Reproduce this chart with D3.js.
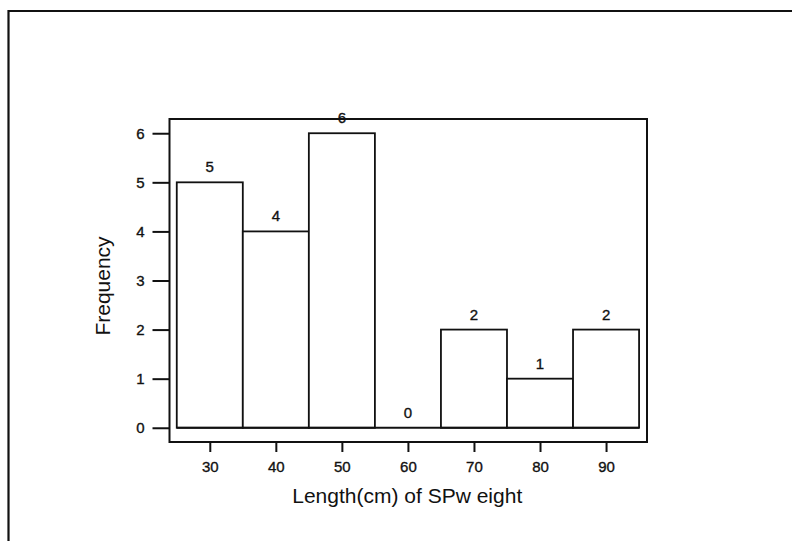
<!DOCTYPE html>
<html>
<head>
<meta charset="utf-8">
<script src="https://cdn.jsdelivr.net/npm/d3@7"></script>
<style>
  html, body { margin: 0; padding: 0; background: #fff; }
  svg { display: block; }
  text { font-family: Arial, "Liberation Sans", sans-serif; fill: #111; }
  .num { stroke: #111; stroke-width: 0.35px; }
</style>
</head>
<body>
<svg id="chart" width="792" height="541"></svg>
<script>
// Histogram of lengths (cm): bin centres and their counts
const binCenters = [30, 40, 50, 60, 70, 80, 90];
const counts = [5, 4, 6, 0, 2, 1, 2];
const binWidth = 10;
const xTicks = [30, 40, 50, 60, 70, 80, 90];
const yTicks = [0, 1, 2, 3, 4, 5, 6];
const xTitle = "Length(cm) of SPw eight";
const yTitle = "Frequency";

const svg = d3.select("#chart");
const frame = { left: 169.5, top: 119, right: 647, bottom: 442 };

const x = d3.scaleLinear().domain([23.9, 96.2]).range([frame.left, frame.right]);
const y = d3.scaleLinear().domain([-0.29, 6.29]).range([frame.bottom, frame.top]);

// page border
svg.append("path")
  .attr("d", "M8.5,541 V11 H792")
  .attr("fill", "none").attr("stroke", "#111").attr("stroke-width", 2.2);

// plot frame
svg.append("rect")
  .attr("x", frame.left).attr("y", frame.top)
  .attr("width", frame.right - frame.left).attr("height", frame.bottom - frame.top)
  .attr("fill", "none").attr("stroke", "#111").attr("stroke-width", 2);

// bars
const bins = binCenters.map((c, i) => ({ c, n: counts[i] }));
svg.append("g").selectAll("rect").data(bins).join("rect")
  .attr("x", d => x(d.c - binWidth / 2))
  .attr("y", d => y(d.n))
  .attr("width", d => x(d.c + binWidth / 2) - x(d.c - binWidth / 2))
  .attr("height", d => y(0) - y(d.n))
  .attr("fill", "#fff").attr("stroke", "#111").attr("stroke-width", 1.8);

// common baseline under all bins (covers empty bins too)
svg.append("line")
  .attr("x1", x(binCenters[0] - binWidth / 2))
  .attr("x2", x(binCenters[binCenters.length - 1] + binWidth / 2))
  .attr("y1", y(0)).attr("y2", y(0))
  .attr("stroke", "#111").attr("stroke-width", 1.8);

// value labels above bars
svg.append("g").selectAll("text").data(bins).join("text")
  .attr("class", "num")
  .attr("x", d => x(d.c))
  .attr("y", d => y(d.n) - 10)
  .attr("text-anchor", "middle")
  .style("font-size", "15px")
  .text(d => d.n);

// y axis
const yAxis = d3.axisLeft(y).tickValues(yTicks).tickSize(17).tickPadding(8).tickFormat(d3.format("d"));
const gy = svg.append("g").attr("transform", `translate(${frame.left},0)`).call(yAxis);
gy.select(".domain").remove();
gy.selectAll(".tick line").attr("stroke", "#111").attr("stroke-width", 2);
gy.selectAll(".tick text").attr("class", "num").style("font-size", "15px").attr("fill", "#111");

// x axis
const xAxis = d3.axisBottom(x).tickValues(xTicks).tickSize(10).tickPadding(9).tickFormat(d3.format("d"));
const gx = svg.append("g").attr("transform", `translate(0,${frame.bottom})`).call(xAxis);
gx.select(".domain").remove();
gx.selectAll(".tick line").attr("stroke", "#111").attr("stroke-width", 2);
gx.selectAll(".tick text").attr("class", "num").style("font-size", "15px").attr("fill", "#111");

// axis titles
svg.append("text")
  .attr("x", (frame.left + frame.right) / 2 - 1)
  .attr("y", 503)
  .attr("text-anchor", "middle")
  .style("font-size", "21px")
  .text(xTitle);

svg.append("text")
  .attr("transform", "translate(110,286) rotate(-90)")
  .attr("text-anchor", "middle")
  .style("font-size", "21px")
  .text(yTitle);
</script>
</body>
</html>
